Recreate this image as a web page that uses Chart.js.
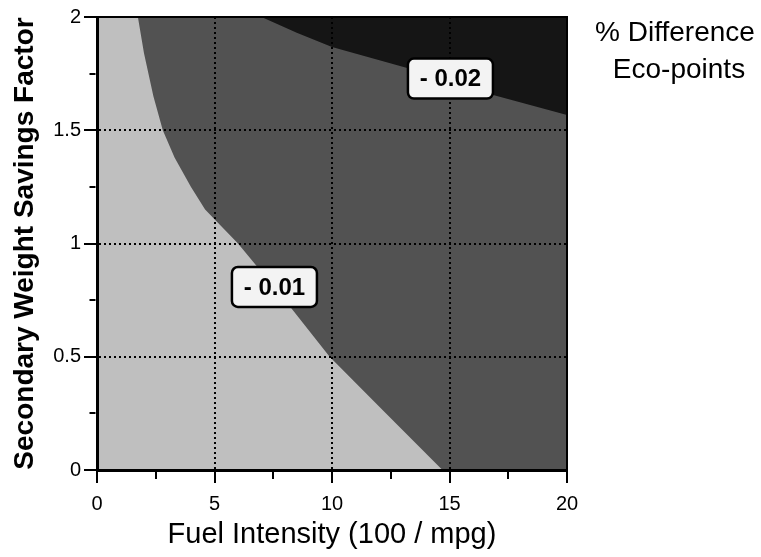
<!DOCTYPE html>
<html>
<head>
<meta charset="utf-8">
<script src="https://cdn.jsdelivr.net/npm/chart.js@4.4.0/dist/chart.umd.min.js"></script>
<style>
  body { margin: 0; background: #fff; }
  #wrap { width: 761px; height: 557px; }
</style>
</head>
<body>
<div id="wrap"><canvas id="chart" width="761" height="557"></canvas></div>
<script>
// boundary of the light region (-0.01 side)
const lightX = [0, 1.74, 2.0, 2.4, 2.8, 3.3, 4.0, 4.6, 6.0, 8.0, 9.9, 12.3, 14.7];
const lightY = [2, 2, 1.84, 1.65, 1.5, 1.38, 1.25, 1.15, 1.0, 0.75, 0.5, 0.25, 0];

// boundary of the dark region (-0.02 side)
const darkX = [7.0, 8.5, 10, 13.2, 16.9, 20];
const darkY = [2, 1.93, 1.868, 1.775, 1.655, 1.567];

// contour labels and where they sit (data units)
const contourLabels = ['- 0.02', '- 0.01'];
const labelX = [15.04, 7.55];
const labelY = [1.728, 0.808];

const xTicks = [0, 5, 10, 15, 20];
const yTicks = [0, 0.5, 1, 1.5, 2];

const legendTitle = ['% Difference', 'Eco-points'];

const toPoints = (xs, ys) => xs.map((x, i) => ({x: x, y: ys[i]}));

Chart.defaults.font.family = 'Liberation Sans, Arial, sans-serif';
Chart.defaults.color = '#000';

const isMajor = (axis, v) => axis === 'x' ? xTicks.includes(v) : yTicks.includes(v);

function gridColor(axis, max) {
    return function (c) {
        const v = c.tick ? c.tick.value : null;
        if (v === null || v === 0 || v === max) return 'rgba(0,0,0,0)';
        return isMajor(axis, v) ? '#000' : 'rgba(0,0,0,0)';
    };
}

const decor = {
    id: 'decor',
    beforeDatasetsDraw(chart) {
        const a = chart.chartArea;
        const ctx = chart.ctx;
        ctx.save();
        ctx.fillStyle = '#525252';
        ctx.fillRect(a.left, a.top, a.right - a.left, a.bottom - a.top);
        ctx.restore();
    },
    afterDraw(chart) {
        const a = chart.chartArea;
        const ctx = chart.ctx;
        const xs = chart.scales.x, ys = chart.scales.y;
        ctx.save();
        // top / right frame
        ctx.strokeStyle = '#000';
        ctx.lineWidth = 2;
        ctx.beginPath();
        ctx.moveTo(a.left, a.top);
        ctx.lineTo(a.right, a.top);
        ctx.lineTo(a.right, a.bottom);
        ctx.stroke();

        // contour labels
        ctx.font = 'bold 24px Liberation Sans, Arial, sans-serif';
        ctx.textAlign = 'center';
        ctx.textBaseline = 'middle';
        for (let i = 0; i < contourLabels.length; i++) {
            const px = xs.getPixelForValue(labelX[i]);
            const py = ys.getPixelForValue(labelY[i]);
            const w = 85, h = 40;
            ctx.beginPath();
            ctx.roundRect(px - w / 2, py - h / 2, w, h, 6);
            ctx.fillStyle = '#f3f3f3';
            ctx.fill();
            ctx.lineWidth = 2.5;
            ctx.strokeStyle = '#000';
            ctx.stroke();
            ctx.fillStyle = '#000';
            ctx.fillText(contourLabels[i], px, py + 1);
        }

        // legend title
        ctx.font = '28px Liberation Sans, Arial, sans-serif';
        ctx.fillText(legendTitle[0], 675, 33);
        ctx.fillText(legendTitle[1], 679, 70);
        ctx.restore();
    }
};

const chart = new Chart(document.getElementById('chart'), {
    type: 'scatter',
    data: {
        datasets: [{
            label: '- 0.01',
            data: toPoints(lightX, lightY),
            showLine: true,
            fill: 'origin',
            backgroundColor: '#bfbfbf',
            borderWidth: 0,
            pointRadius: 0,
            tension: 0
        }, {
            label: '- 0.02',
            data: toPoints(darkX, darkY),
            showLine: true,
            fill: 'end',
            backgroundColor: '#151515',
            borderWidth: 0,
            pointRadius: 0,
            tension: 0
        }]
    },
    options: {
        responsive: false,
        animation: false,
        layout: { padding: { top: 17, right: 194, left: 0, bottom: 0 } },
        plugins: {
            legend: { display: false },
            tooltip: { enabled: false }
        },
        scales: {
            x: {
                type: 'linear',
                min: 0,
                max: 20,
                afterFit: (s) => { s.height = 87; },
                ticks: {
                    stepSize: 2.5,
                    autoSkip: false,
                    maxRotation: 0,
                    padding: 9,
                    font: { size: 20 },
                    callback: (v) => xTicks.includes(v) ? String(v) : ''
                },
                grid: {
                    z: 1,
                    lineWidth: 2,
                    color: gridColor('x', 20),
                    tickColor: '#000',
                    tickLength: 13,
                    tickWidth: 2,
                    tickBorderDash: (c) => c.tick && isMajor('x', c.tick.value) ? [] : [7, 100]
                },
                border: { z: 2, width: 3, color: '#000', dash: [2, 3] },
                title: {
                    display: true,
                    text: 'Fuel Intensity (100 / mpg)',
                    font: { size: 29 },
                    padding: { top: 0, bottom: 5 }
                }
            },
            y: {
                type: 'linear',
                min: 0,
                max: 2,
                afterFit: (s) => { s.width = 97; },
                ticks: {
                    stepSize: 0.25,
                    autoSkip: false,
                    padding: 3,
                    font: { size: 20 },
                    callback: (v) => yTicks.includes(v) ? String(v) : ''
                },
                grid: {
                    z: 1,
                    lineWidth: 2,
                    color: gridColor('y', 2),
                    tickColor: '#000',
                    tickLength: 13,
                    tickWidth: 2,
                    tickBorderDash: (c) => c.tick && isMajor('y', c.tick.value) ? [] : [0, 5.5, 6, 100]
                },
                border: { z: 2, width: 3, color: '#000', dash: [2, 3] },
                title: {
                    display: true,
                    text: 'Secondary Weight Savings Factor',
                    font: { size: 28, weight: 'bold' },
                    padding: { top: 8, bottom: 0 }
                }
            }
        }
    },
    plugins: [decor]
});
</script>
</body>
</html>
